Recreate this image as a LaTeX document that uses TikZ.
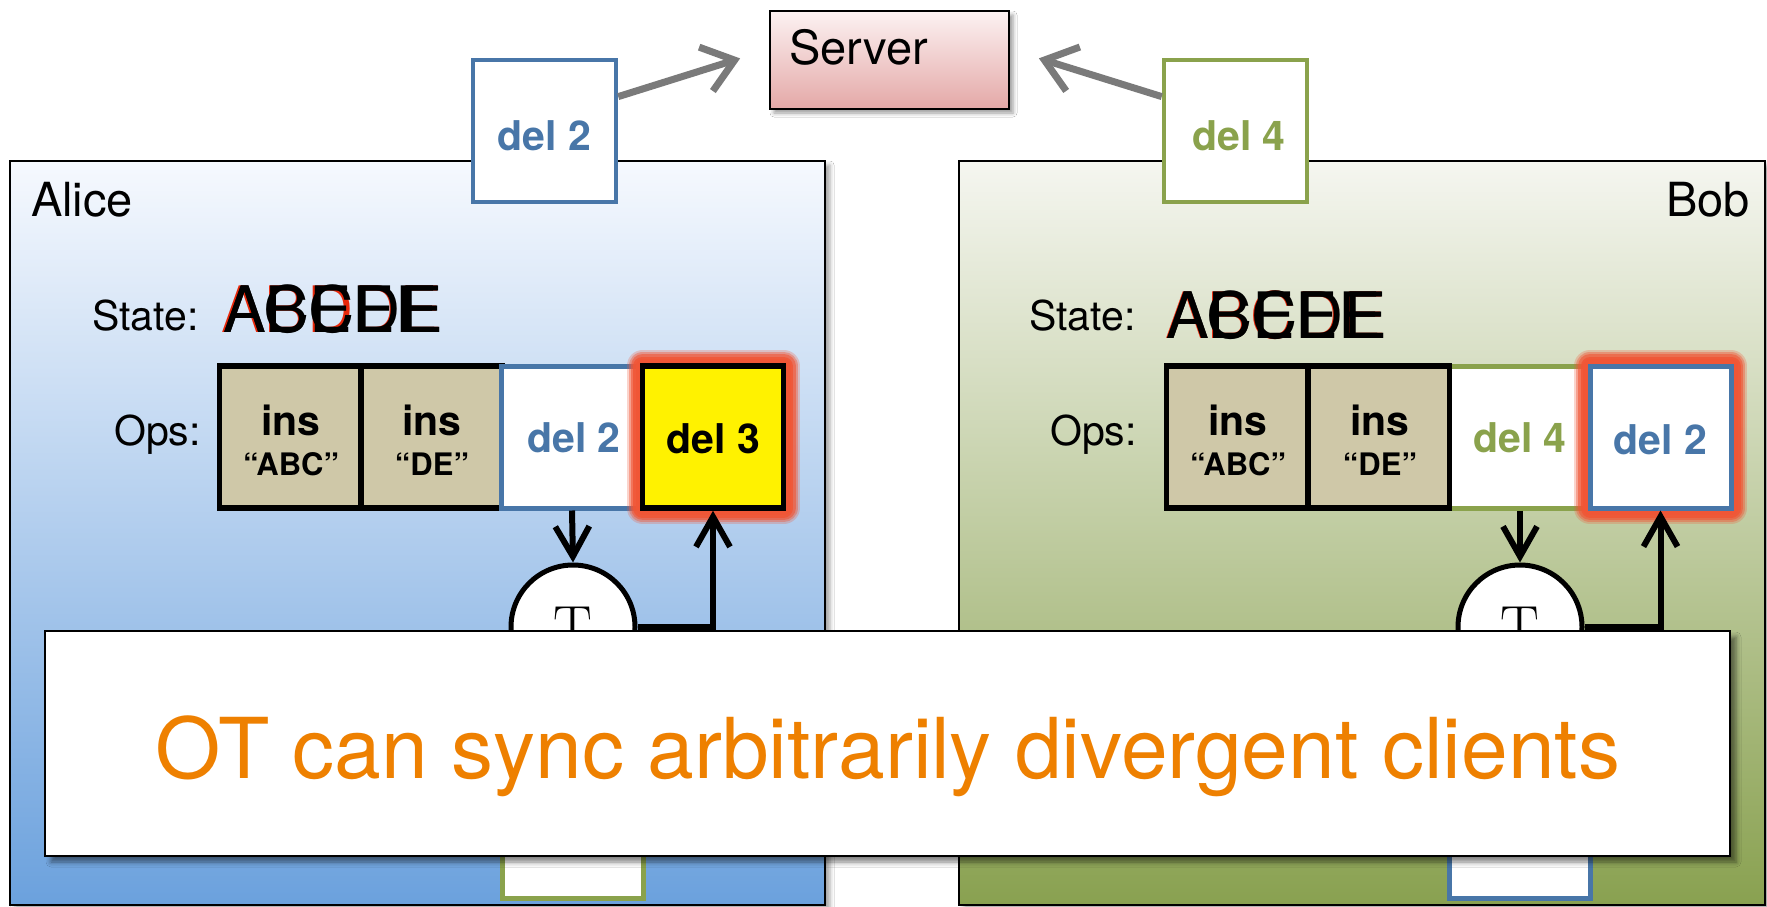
\documentclass[tikz,border=0pt]{standalone}
\usepackage{fontspec}
\newfontfamily\hv{TeX Gyre Heros}
\usetikzlibrary{arrows.meta,shadows.blur}
\definecolor{opblue}{RGB}{72,118,168}
\definecolor{opgreen}{RGB}{138,162,76}
\definecolor{insfill}{RGB}{207,200,168}
\definecolor{glowred}{RGB}{240,86,54}
\definecolor{ttorange}{RGB}{238,128,0}
\definecolor{arrgray}{RGB}{122,122,122}
\definecolor{statered}{RGB}{232,40,10}
\newcommand\fsz[1]{\fontsize{#1}{#1}\selectfont}
\begin{document}
\begin{tikzpicture}[x=1pt,y=-1pt,
  panel/.style={rectangle, draw=black, line width=2, inner sep=0,
    blur shadow={shadow xshift=5pt, shadow yshift=-4pt, shadow blur radius=4pt, shadow opacity=35}},
  opbox/.style={rectangle, draw=black, line width=5.5, minimum width=141, minimum height=142, inner sep=0},
  insbox/.style={opbox, fill=insfill},
  lab/.style={anchor=base, inner sep=0, font=\hv\bfseries\fsz{41}},
  qlab/.style={anchor=base, inner sep=0, font=\hv\bfseries\fsz{31}},
  plain/.style={anchor=base west, inner sep=0, font=\hv\fsz{47}},
  small/.style={anchor=base west, inner sep=0, font=\hv\fsz{41}},
  st/.style={anchor=base west, inner sep=0, font=\hv\fsz{64}},
  tcirc/.style={circle, draw=black, line width=5, fill=white, minimum size=124, inner sep=0, font=\rmfamily\fsz{58}},
  arr/.style={line width=6, -{Straight Barb[length=30pt,width=34pt]}},
  grayarr/.style={draw=arrgray, line width=7, -{Straight Barb[length=30pt,width=46pt]}, shorten >=30pt}
]
\useasboundingbox (0,0) rectangle (1767,907);
\fill[white] (0,0) rectangle (1767,907);

% client panels
\node[panel, minimum width=815, minimum height=744,
  top color={rgb,255:red,246;green,249;blue,254},
  middle color={rgb,255:red,180;green,206;blue,236},
  bottom color={rgb,255:red,107;green,161;blue,221}] (alice) at (417.5,533) {};
\node[panel, minimum width=806, minimum height=744,
  top color={rgb,255:red,245;green,246;blue,240},
  middle color={rgb,255:red,196;green,208;blue,168},
  bottom color={rgb,255:red,137;green,161;blue,80}] (bob) at (1362,533) {};

\node[plain] (alicet) at (31,216) {Alice};
\node[plain, anchor=base east] (bobt) at (1750,216) {Bob};

% sent ops
\node[opbox, line width=4.5, draw=opblue, fill=white, minimum width=143] (ad) at (544.5,131) {};
\node[lab, text=opblue] (adt) at (544.5,150) {del 2};
\node[opbox, line width=4.5, draw=opgreen, fill=white, minimum width=143] (bd) at (1235.5,131) {};
\node[lab, text=opgreen] (bdt) at (1239,150) {del 4};

% server
\node[rectangle, draw=black, line width=2.5, minimum width=239, minimum height=98, inner sep=0,
  top color={rgb,255:red,252;green,242;blue,242},
  bottom color={rgb,255:red,228;green,168;blue,167},
  blur shadow={shadow xshift=4pt, shadow yshift=-4pt, shadow blur radius=4pt, shadow opacity=40}] (srv) at (889.5,60) {};
\node[plain] (srvt) at (789,64) {Server};

\draw[grayarr] (ad.25) -- (srv.175);
\draw[grayarr] (bd.155) -- (srv.5);

% Alice state and ops
\node[small] (ast) at (92,330) {State:};
\node[st, text=statered] (as0) at (221.5,332) {ABDDE};
\node[st] (as1) at (223,332) {ABCDE};
\node[st] (as2) at (223,332) {ACEEE};
\node[small] (aop) at (114,445) {Ops:};

\node[insbox] (a1) at (290,437) {};
\node[insbox] (a2) at (431.5,437) {};
\node[opbox, line width=5, draw=opblue, fill=white] (a3) at (572,437) {};
% glow around del 3
\foreach \w/\o in {32/.25, 28/.4, 24/.6, 19/.85, 14/1}
  \draw[glowred, line width=\w, opacity=\o, line join=round] (642.5,366) rectangle (783.5,508);
\node[opbox, fill=yellow] (a4) at (713,437) {};
\node[lab] (a1t) at (291,435) {ins};
\node[qlab] (a1q) at (291,475) {“ABC”};
\node[lab] (a2t) at (432,435) {ins};
\node[qlab] (a2q) at (432,475) {“DE”};
\node[lab, text=opblue] (a3t) at (574,452) {del 2};
\node[lab] (a4t) at (713.5,453) {del 3};

\node[tcirc] (aT) at (573,627) {T};
\draw[arr] (a3.south) -- (aT.north);
\draw[arr] (aT.east) -| (a4.south);
\node[opbox, line width=5, draw=opgreen, fill=white] (a5) at (573,827) {};

% Bob state and ops
\node[small] (bst) at (1029,330) {State:};
\node[st, text=statered] (bs0) at (1165,338) {ABCDE};
\node[st] (bs1) at (1166,338) {ABCDE};
\node[st] (bs2) at (1166,338) {ACEEE};
\node[small] (bop) at (1050,445) {Ops:};

\node[opbox, line width=5, draw=opgreen, fill=white] (b3) at (1520,437) {};
\node[insbox] (b1) at (1237,437) {};
\node[insbox] (b2) at (1379,437) {};
% glow around Bob's del 2
\foreach \w/\o in {32/.25, 28/.4, 24/.6, 19/.85, 14/1}
  \draw[glowred, line width=\w, opacity=\o, line join=round] (1590,366) rectangle (1731,508);
\node[opbox, line width=5, draw=opblue, fill=white] (b4) at (1660.5,437) {};
\node[lab] (b1t) at (1238,435) {ins};
\node[qlab] (b1q) at (1238,475) {“ABC”};
\node[lab] (b2t) at (1380,435) {ins};
\node[qlab] (b2q) at (1380,475) {“DE”};
\node[lab, text=opgreen] (b3t) at (1520,452) {del 4};
\node[lab, text=opblue] (b4t) at (1660.5,454) {del 2};

\node[tcirc] (bT) at (1520,627) {T};
\draw[arr] (b3.south) -- (bT.north);
\draw[arr] (bT.east) -| (b4.south);
\node[opbox, line width=5, draw=opblue, fill=white] (b5) at (1520,827) {};

% banner
\node[rectangle, draw=black, line width=2, fill=white, minimum width=1685, minimum height=225, inner sep=0,
  blur shadow={shadow xshift=6pt, shadow yshift=-6pt, shadow blur radius=5pt, shadow opacity=50}] (banner) at (887.5,743.5) {};
\node[anchor=base, inner sep=0, font=\hv\fsz{84}, text=ttorange] (bannert) at (888,778) {OT can sync arbitrarily divergent clients};
\end{tikzpicture}
\end{document}
